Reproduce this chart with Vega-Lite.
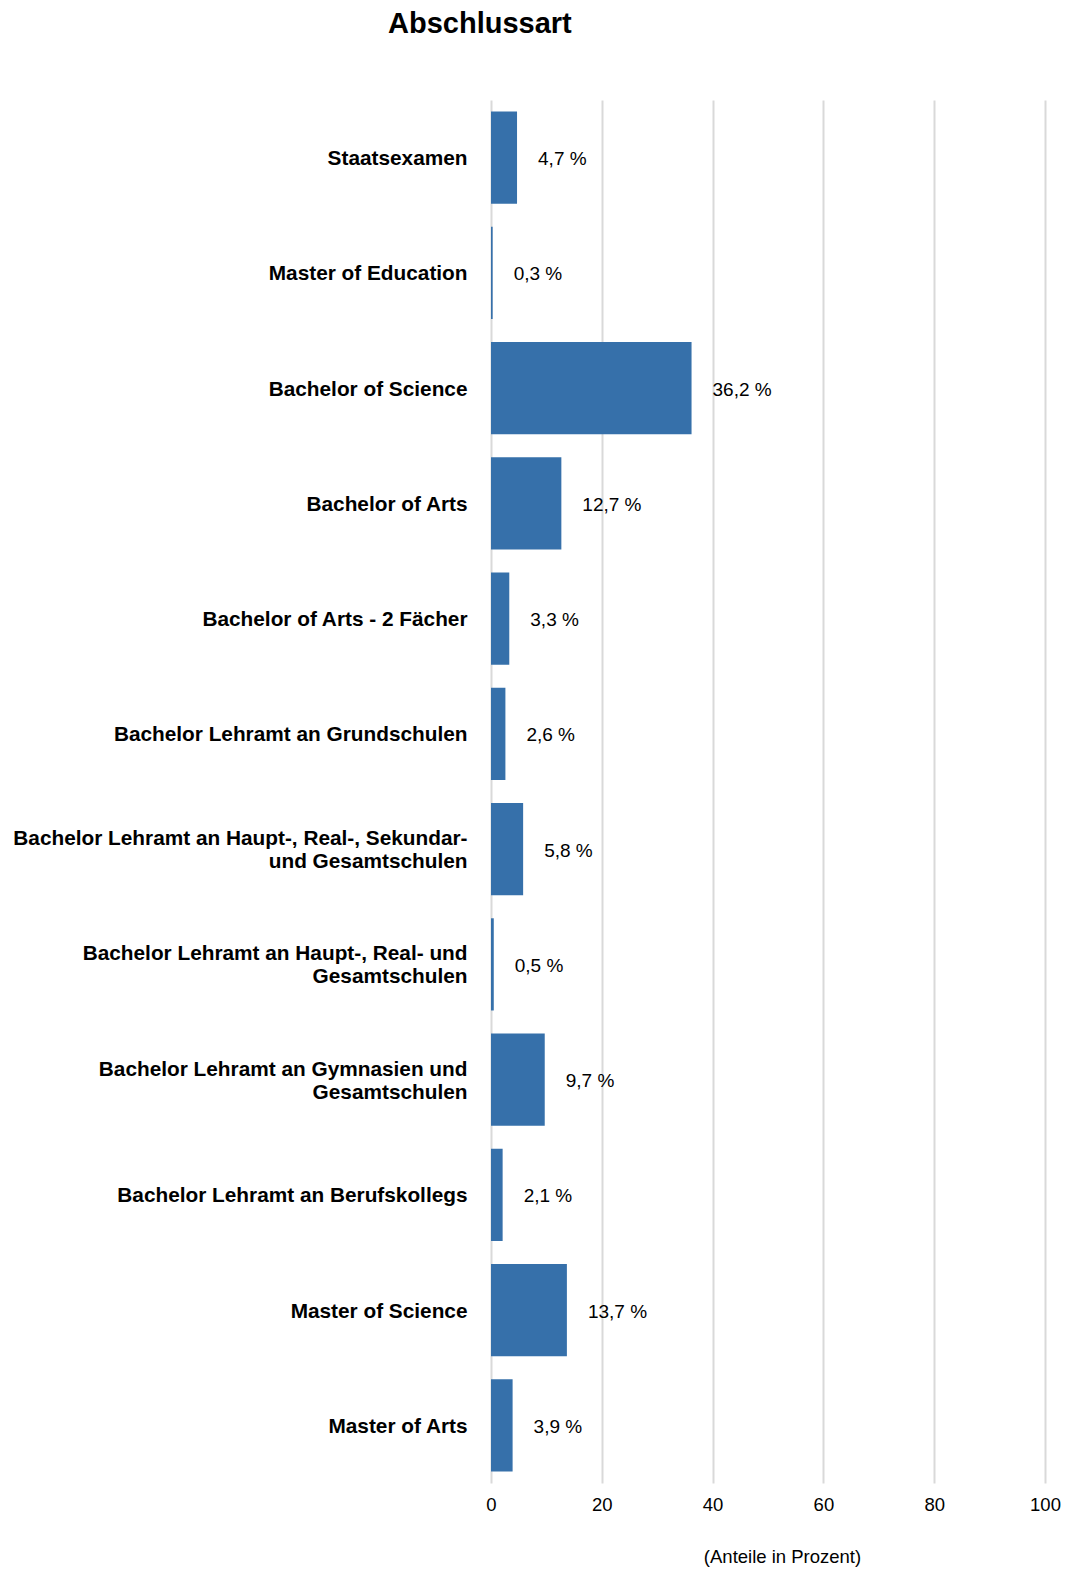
{
  "$schema": "https://vega.github.io/schema/vega-lite/v6.json",
  "autosize": {"type": "none"},
  "width": 554,
  "height": 1383,
  "padding": {"left": 491, "top": 100, "right": 22, "bottom": 86},
  "background": "white",
  "config": {"view": {"stroke": null}},
  "title": {
    "text": "Abschlussart",
    "anchor": "start",
    "frame": "group",
    "dx": -103,
    "baseline": "alphabetic",
    "offset": 38,
    "font": "Liberation Sans",
    "fontSize": 29,
    "fontWeight": "bold",
    "color": "#000000"
  },
  "data": {
    "values": [
      {"category": "Staatsexamen", "value": 4.7},
      {"category": "Master of Education", "value": 0.3},
      {"category": "Bachelor of Science", "value": 36.2},
      {"category": "Bachelor of Arts", "value": 12.7},
      {"category": "Bachelor of Arts - 2 Fächer", "value": 3.3},
      {"category": "Bachelor Lehramt an Grundschulen", "value": 2.6},
      {"category": "Bachelor Lehramt an Haupt-, Real-, Sekundar-\nund Gesamtschulen", "value": 5.8},
      {"category": "Bachelor Lehramt an Haupt-, Real- und\nGesamtschulen", "value": 0.5},
      {"category": "Bachelor Lehramt an Gymnasien und\nGesamtschulen", "value": 9.7},
      {"category": "Bachelor Lehramt an Berufskollegs", "value": 2.1},
      {"category": "Master of Science", "value": 13.7},
      {"category": "Master of Arts", "value": 3.9}
    ]
  },
  "transform": [
    {"calculate": "replace(format(datum.value, '.1f'), '.', ',') + ' %'", "as": "label"}
  ],
  "encoding": {
    "y": {
      "field": "category",
      "type": "nominal",
      "sort": null,
      "scale": {"paddingInner": 0.2, "paddingOuter": 0.1},
      "axis": {
        "title": null,
        "domain": false,
        "ticks": false,
        "grid": false,
        "labelExpr": "split(datum.label, '\\n')",
        "labelFont": "Liberation Sans",
        "labelFontSize": 20.8,
        "labelFontWeight": "bold",
        "labelColor": "#000000",
        "labelPadding": 24,
        "labelLineHeight": 23,
        "labelLimit": 600,
        "labelOffset": {"condition": {"test": "indexof(datum.value, '\\n') >= 0", "value": -10}, "value": 1.5}
      }
    }
  },
  "layer": [
    {
      "mark": {"type": "bar", "color": "#3670aa"},
      "encoding": {
        "x": {
          "field": "value",
          "type": "quantitative",
          "scale": {"domain": [0, 100], "nice": false},
          "axis": {
            "title": "(Anteile in Prozent)",
            "values": [0, 20, 40, 60, 80, 100],
            "domain": false,
            "ticks": false,
            "grid": true,
            "gridColor": "#d9d9d9",
            "gridWidth": 2,
            "labelFlush": false,
            "labelFont": "Liberation Sans",
            "labelFontSize": 18.5,
            "labelColor": "#000000",
            "labelPadding": 12,
            "titleFont": "Liberation Sans",
            "titleFontSize": 18.5,
            "titleFontWeight": "normal",
            "titleColor": "#000000",
            "titlePadding": 34,
            "titleX": 291
          }
        }
      }
    },
    {
      "mark": {
        "type": "text",
        "align": "left",
        "baseline": "middle",
        "dx": 21,
        "dy": 1.5,
        "font": "Liberation Sans",
        "fontSize": 19,
        "color": "#000000"
      },
      "encoding": {
        "x": {"field": "value", "type": "quantitative"},
        "text": {"field": "label", "type": "nominal"}
      }
    }
  ]
}
